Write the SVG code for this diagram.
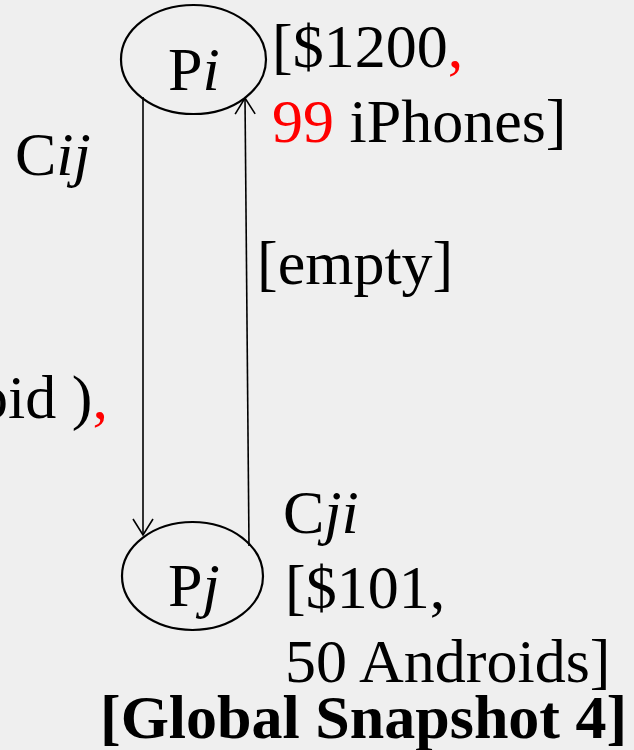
<svg xmlns="http://www.w3.org/2000/svg" width="634" height="750" viewBox="0 0 634 750">
<style>
text{font-family:"Liberation Serif","Times New Roman",serif;font-size:62px;fill:#000}
.it{font-style:italic}
.red{fill:#ff0000}
.node{fill:none;stroke:#000;stroke-width:2.2}
.edge{fill:none;stroke:#000;stroke-width:1.6}
</style>
<defs>
<marker id="arr" viewBox="0 0 20 24" refX="18" refY="12" markerWidth="20" markerHeight="24" markerUnits="userSpaceOnUse" orient="auto">
<path d="M2,2 L18,12 L2,22" fill="none" stroke="#000" stroke-width="1.6"/>
</marker>
</defs>
<rect width="634" height="750" fill="#efefef"/>
<g id="connectors">
<line class="edge" x1="143" y1="97" x2="143" y2="535" marker-end="url(#arr)"/>
<line class="edge" x1="249" y1="546" x2="245" y2="98" marker-end="url(#arr)"/>
</g>
<g id="Pi">
<ellipse class="node" cx="193.5" cy="59.5" rx="72.5" ry="54.5"/>
<text x="168" y="90">P<tspan class="it">i</tspan></text>
</g>
<g id="Pj">
<ellipse class="node" cx="192.5" cy="576" rx="70.5" ry="54"/>
<text x="168" y="606">P<tspan class="it">j</tspan></text>
</g>
<g id="labels">
<text x="272" y="67">[$1200<tspan class="red">,</tspan></text>
<text x="272" y="142"><tspan class="red">99</tspan> iPhones]</text>
<text x="15" y="175">C<tspan class="it">ij</tspan></text>
<text x="257" y="284">[empty]</text>
<text x="-23" y="418">oid )<tspan class="red">,</tspan></text>
<text x="283" y="533">C<tspan class="it">ji</tspan></text>
<text x="285" y="608">[$101,</text>
<text x="285" y="682">50 Androids]</text>
<text x="100" y="738" font-weight="bold">[Global Snapshot 4]</text>
</g>
</svg>
